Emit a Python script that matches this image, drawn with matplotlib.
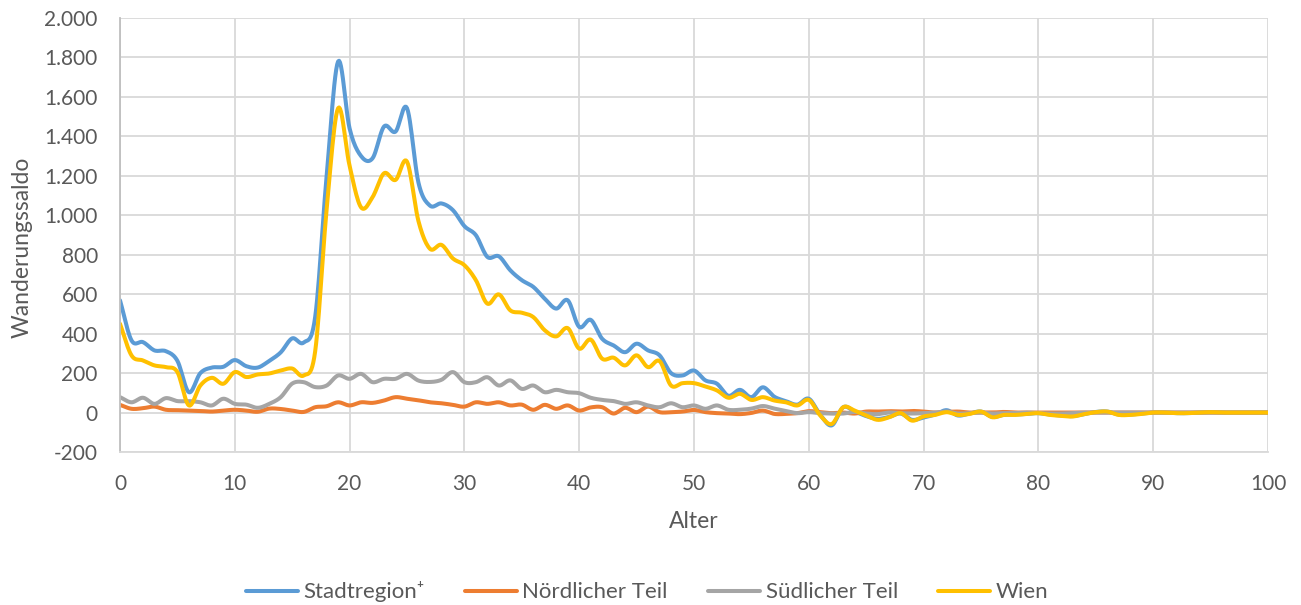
import numpy as np
import matplotlib
matplotlib.use("Agg")
import matplotlib.pyplot as plt
from matplotlib.ticker import FuncFormatter, MultipleLocator

plt.rcParams['font.family'] = ['Lato', 'DejaVu Sans']

ages = list(range(0, 101))

stadtregion = [569, 366, 357, 315, 311, 262, 103, 200, 228, 232,
               266, 235, 228, 262, 305, 376, 355, 484, 1200, 1780,
               1440, 1300, 1289, 1450, 1424, 1543, 1165, 1049, 1060, 1026,
               945, 899, 789, 792, 721, 671, 637, 577, 527, 569,
               434, 470, 374, 340, 306, 349, 315, 290, 200, 188,
               213, 163, 146, 85, 115, 78, 128, 80, 58, 40,
               70, -12, -65, 27, 5, -18, -32, -22, -5, -37,
               -25, -10, 12, -15, -5, 5, -22, -12, -10, -7,
               -3, -10, -15, -18, -8, 3, 5, -10, -10, -5,
               0, 0, -3, -3, 0, 2, 0, 0, 0, 0, 0]

noerdlich = [39, 19, 22, 30, 14, 12, 10, 8, 5, 10,
             14, 10, 4, 20, 18, 10, 3, 27, 32, 52,
             36, 52, 49, 61, 78, 70, 62, 52, 47, 39,
             30, 52, 44, 52, 36, 40, 14, 39, 19, 36,
             10, 26, 27, -5, 24, 2, 30, 2, 2, 5,
             13, 2, -3, -5, -8, -2, 10, -7, -7, -3,
             7, 2, -3, 0, -5, 5, 5, 7, 5, 8,
             5, 0, 3, 5, 0, 0, 0, 3, 0, 0,
             0, 0, 0, 0, 0, 0, 0, 0, 0, 0,
             0, 0, 0, 0, 0, 0, 0, 0, 0, 0, 0]

suedlich = [78, 52, 75, 44, 73, 58, 58, 52, 36, 70,
            44, 40, 24, 44, 78, 147, 154, 129, 137, 188,
            171, 196, 154, 171, 171, 196, 162, 155, 166, 205,
            154, 154, 179, 137, 163, 120, 137, 103, 115, 103,
            98, 75, 64, 58, 44, 52, 36, 27, 47, 27,
            36, 19, 36, 14, 14, 20, 33, 20, 8, -3,
            2, -3, -5, -5, 3, -5, -8, 0, -3, -5,
            -3, 0, 5, -5, -3, 0, -5, -3, -3, 0,
            -3, -5, -5, -3, 0, 0, 0, 0, 0, 0,
            0, 0, 0, 0, 0, 0, 0, 0, 0, 0, 0]

wien = [450, 290, 264, 239, 230, 205, 36, 137, 176, 146,
        205, 180, 193, 198, 213, 223, 188, 310, 1030, 1543,
        1250, 1040, 1092, 1213, 1179, 1272, 970, 830, 850, 781,
        747, 671, 552, 599, 518, 506, 484, 417, 386, 428,
        324, 370, 273, 278, 239, 290, 230, 261, 137, 149,
        149, 132, 112, 75, 95, 64, 78, 61, 52, 36,
        64, -15, -58, 27, 10, -15, -37, -24, -3, -41,
        -20, -12, 2, -12, -7, 5, -24, -12, -12, -7,
        -3, -12, -17, -20, -8, 2, 5, -12, -12, -7,
        0, 0, -3, -3, 0, 2, 0, 0, 0, 0, 0]

series_names = ["Stadtregion\u207a", "Nördlicher Teil", "Südlicher Teil", "Wien"]
series_values = [stadtregion, noerdlich, suedlich, wien]
colors = ["#5B9BD5", "#ED7D31", "#A5A5A5", "#FFC000"]


def smooth(x, y, n=12):
    """Catmull-Rom rendering of the polyline (display smoothing only)."""
    x = np.asarray(x, float)
    y = np.asarray(y, float)
    px = np.concatenate([[2 * x[0] - x[1]], x, [2 * x[-1] - x[-2]]])
    py = np.concatenate([[2 * y[0] - y[1]], y, [2 * y[-1] - y[-2]]])
    t = np.linspace(0, 1, n, endpoint=False)
    xs, ys = [], []
    for i in range(1, len(px) - 2):
        for arr, out in ((px, xs), (py, ys)):
            p0, p1, p2, p3 = arr[i - 1], arr[i], arr[i + 1], arr[i + 2]
            out.append(0.5 * ((2 * p1) + (-p0 + p2) * t +
                              (2 * p0 - 5 * p1 + 4 * p2 - p3) * t ** 2 +
                              (-p0 + 3 * p1 - 3 * p2 + p3) * t ** 3))
    xs.append([x[-1]])
    ys.append([y[-1]])
    return np.concatenate(xs), np.concatenate(ys)


W, H = 1301, 605
fig = plt.figure(figsize=(W / 100, H / 100), dpi=100)
ax_l, ax_r, ax_t, ax_b = 120, 1268, 18, 452
ax = fig.add_axes([ax_l / W, 1 - ax_b / H, (ax_r - ax_l) / W, (ax_b - ax_t) / H])

for name, vals, c in zip(series_names, series_values, colors):
    sx, sy = smooth(ages, vals)
    ax.plot(sx, sy, color=c, lw=2.9, label=name, solid_capstyle='round',
            solid_joinstyle='round')

ax.set_xlim(0, 100)
ax.set_ylim(-200, 2000)
ax.xaxis.set_major_locator(MultipleLocator(10))
ax.yaxis.set_major_locator(MultipleLocator(200))
ax.yaxis.set_major_formatter(FuncFormatter(lambda v, p: f"{int(round(v)):,}".replace(",", ".")))

ax.grid(True, color="#D9D9D9", lw=1.3)
ax.set_axisbelow(True)
for s in ["top", "right"]:
    ax.spines[s].set_visible(False)
ax.spines["left"].set_color("#BFBFBF")
ax.spines["bottom"].set_color("#D9D9D9")
ax.spines["left"].set_linewidth(1.3)
ax.spines["bottom"].set_linewidth(1.3)
ax.tick_params(axis="both", length=0, labelsize=15, colors="#595959")
ax.tick_params(axis="y", pad=16)
ax.tick_params(axis="x", pad=16)

ax.set_xlabel("Alter", fontsize=16.5, color="#595959", va="center")
ax.xaxis.set_label_coords(0.5, (ax_b - 522) / (ax_b - ax_t))
ax.set_ylabel("Wanderungssaldo", fontsize=16.5, color="#595959", va="center", ha="center")
ax.yaxis.set_label_coords((22 - ax_l) / (ax_r - ax_l), (ax_b - 247) / (ax_b - ax_t))

leg = fig.legend(loc="center", bbox_to_anchor=(647 / W, 1 - 592 / H), ncol=4,
                 frameon=False, fontsize=16, handlelength=2.35, handletextpad=0.25,
                 columnspacing=1.8)
for t in leg.get_texts():
    t.set_color("#595959")

fig.savefig("out.png", dpi=100)
